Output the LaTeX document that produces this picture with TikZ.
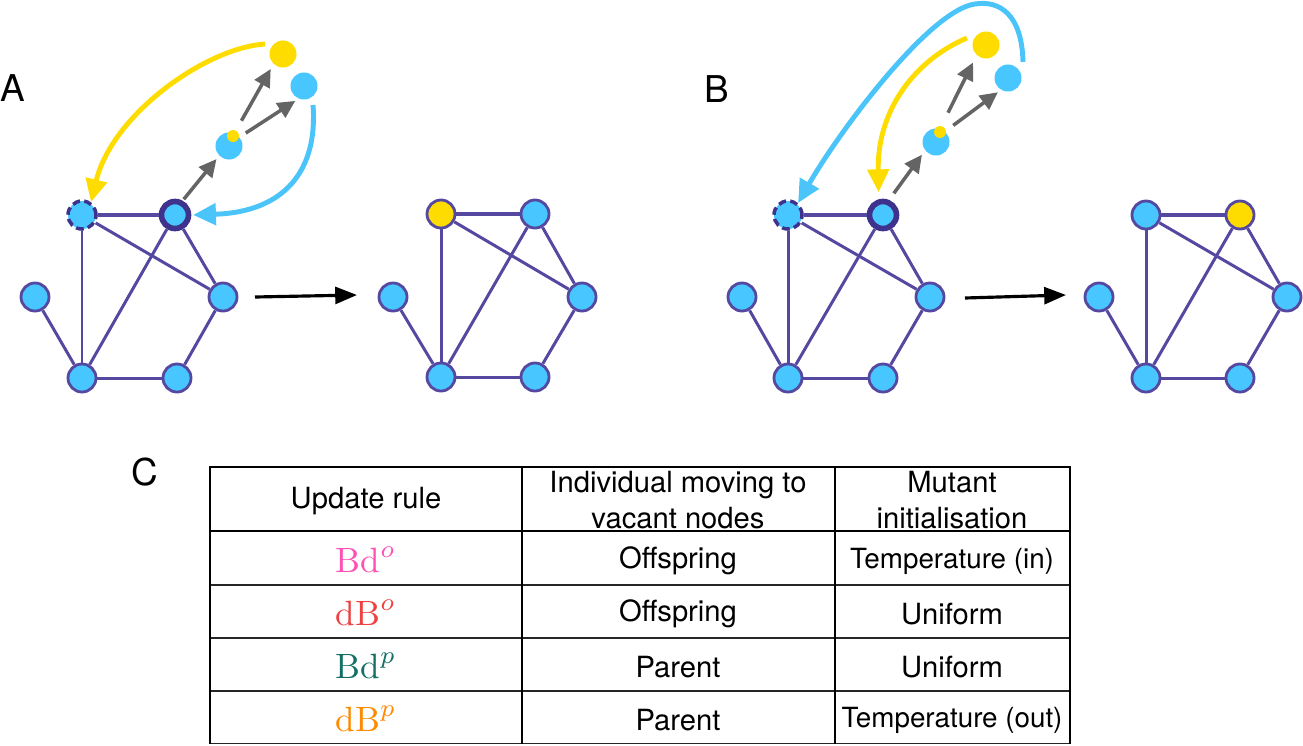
\documentclass[tikz,border=0pt]{standalone}
\usepackage{fontspec}
\newfontfamily\helv{TeX Gyre Heros}
\usetikzlibrary{arrows.meta}
\usepackage{xcolor}

\definecolor{nodeblue}{RGB}{72,198,255}
\definecolor{linkpurple}{RGB}{84,72,160}
\definecolor{darkpurple}{RGB}{62,50,140}
\definecolor{mutyellow}{RGB}{255,220,0}
\definecolor{arrgray}{RGB}{100,100,100}
\definecolor{arrblue}{RGB}{75,196,250}
\definecolor{rulepink}{RGB}{255,80,180}
\definecolor{rulered}{RGB}{238,66,66}
\definecolor{ruleteal}{RGB}{20,112,102}
\definecolor{ruleorange}{RGB}{255,138,0}

\tikzset{
  ind/.style={circle, draw=linkpurple, fill=nodeblue, line width=0.8pt, minimum size=0.28cm, inner sep=0pt},
  mutind/.style={ind, fill=mutyellow},
  parentind/.style={ind, draw=darkpurple, line width=1.6pt, minimum size=0.27cm},
  vacantind/.style={ind, draw=darkpurple, line width=1pt, dash pattern=on 2.2pt off 1.2pt},
  floatind/.style={circle, fill=nodeblue, minimum size=0.27cm, inner sep=0pt},
  floatmut/.style={floatind, fill=mutyellow},
  seed/.style={circle, fill=mutyellow, minimum size=0.12cm, inner sep=0pt},
  link/.style={linkpurple, line width=0.85pt},
  toplink/.style={linkpurple, line width=1.2pt},
  grayarr/.style={arrgray, line width=1pt, -{Triangle[length=5pt,width=4.8pt]}},
  yarrow/.style={mutyellow, line width=1.4pt, -{Triangle[length=6.5pt,width=6pt]}},
  barrow/.style={arrblue, line width=1.4pt, -{Triangle[length=6.5pt,width=6pt]}},
  steparr/.style={black, line width=0.9pt, -{Triangle[length=6.2pt,width=4.8pt]}},
  panel/.style={font=\helv\fontsize{10.5}{12}\selectfont},
  cell/.style={font=\helv\fontsize{8.3}{10}\selectfont, align=center},
  tempcell/.style={font=\helv\fontsize{7.9}{10}\selectfont, align=center},
  rulecell/.style={font=\fontsize{10}{12}\selectfont},
  tabthick/.style={black, line width=0.8pt},
  tabmid/.style={black, line width=0.55pt},
  tabthin/.style={black!85, line width=0.4pt}
}

\begin{document}
\begin{tikzpicture}[x=0.01cm, y=-0.01cm]

\useasboundingbox (0,0) rectangle (1303,745);

% panel letters
\node[panel] (labA) at (13,88) {A};
\node[panel] (labB) at (717,89) {B};
\node[panel] (labC) at (145,472) {C};

% graph A (before)
\node[vacantind] (vA)  at (82,215)  {};
\node[parentind] (pA)  at (175,215) {};
\node[ind]       (lA)  at (35,297)  {};
\node[ind]       (rA)  at (223,297) {};
\node[ind]       (blA) at (82,378)  {};
\node[ind]       (brA) at (177,378) {};
\draw[toplink] (vA) -- (pA);
\draw[link] (vA) -- (blA);
\draw[link] (vA) -- (rA);
\draw[link] (pA) -- (blA);
\draw[link] (pA) -- (rA);
\draw[link] (lA) -- (blA);
\draw[link] (blA) -- (brA);
\draw[link] (brA) -- (rA);

% reproduction A: offspring moves to the vacant node
\node[floatind] (cA)  at (229,146) {};
\node[seed]     (sA)  at (233,136) {};
\node[floatmut] (yA)  at (283,54)  {};
\node[floatind] (bA)  at (304,86)  {};
\draw[grayarr, shorten <=0.5pt, shorten >=1.1pt] (pA.62) -- (cA.225);
\draw[grayarr, shorten <=4pt, shorten >=1.5pt]   (cA.67) -- (yA.227);
\draw[grayarr, shorten <=2pt, shorten >=1pt]     (cA.40) -- (bA.246);
\coordinate (ysA) at (265,44);
\coordinate (bsA) at (313,105);
\draw[yarrow] (ysA) .. controls (205,48) and (112,115) .. (vA.55);
\draw[barrow, shorten >=0.5pt] (bsA) .. controls (318,170) and (285,212) .. (pA.east);

\coordinate (asA) at (255,297);
\coordinate (aeA) at (357,295);
\draw[steparr] (asA) -- (aeA);

% graph A (after)
\node[mutind] (tlA2) at (441,214) {};
\node[ind]    (trA2) at (535,214) {};
\node[ind]    (lA2)  at (393,297) {};
\node[ind]    (rA2)  at (582,297) {};
\node[ind]    (blA2) at (441,377) {};
\node[ind]    (brA2) at (535,377) {};
\draw[toplink] (tlA2) -- (trA2);
\draw[link] (tlA2) -- (blA2);
\draw[link] (tlA2) -- (rA2);
\draw[link] (trA2) -- (blA2);
\draw[link] (trA2) -- (rA2);
\draw[link] (lA2) -- (blA2);
\draw[link] (blA2) -- (brA2);
\draw[link] (brA2) -- (rA2);

% graph B (before)
\node[vacantind] (vB)  at (788,215) {};
\node[parentind] (pB)  at (883,215) {};
\node[ind]       (lB)  at (742,297) {};
\node[ind]       (rB)  at (930,297) {};
\node[ind]       (blB) at (788,378) {};
\node[ind]       (brB) at (883,378) {};
\draw[toplink] (vB) -- (pB);
\draw[link] (vB) -- (blB);
\draw[link] (vB) -- (rB);
\draw[link] (pB) -- (blB);
\draw[link] (pB) -- (rB);
\draw[link] (lB) -- (blB);
\draw[link] (blB) -- (brB);
\draw[link] (brB) -- (rB);

% reproduction B: parent moves to the vacant node
\node[floatind] (cB)  at (936,142)  {};
\node[seed]     (sB)  at (940,132)  {};
\node[floatmut] (yB)  at (986,45)   {};
\node[floatind] (bB)  at (1008,78)  {};
\draw[grayarr, shorten <=2.3pt, shorten >=1.4pt] (pB.68) -- (cB.218);
\draw[grayarr, shorten <=5pt, shorten >=2.2pt]   (cB.73) -- (yB.228);
\draw[grayarr, shorten <=2.8pt, shorten >=1pt]   (cB.49) -- (bB.239);
\coordinate (ysB) at (967,38);
\coordinate (bsB) at (1023,62);
\coordinate (btB) at (975,4);
\draw[yarrow, shorten >=2pt] (ysB) .. controls (915,60) and (877,110) .. (pB.105);
\draw[barrow] (bsB) .. controls (1022,15) and (1000,0) .. (btB) .. controls (930,10) and (840,130) .. (vB.50);

\coordinate (asB) at (965,298);
\coordinate (aeB) at (1066,295);
\draw[steparr] (asB) -- (aeB);

% graph B (after)
\node[ind]    (tlB2) at (1146,215) {};
\node[mutind] (trB2) at (1240,215) {};
\node[ind]    (lB2)  at (1099,297) {};
\node[ind]    (rB2)  at (1287,297) {};
\node[ind]    (blB2) at (1146,378) {};
\node[ind]    (brB2) at (1240,378) {};
\draw[toplink] (tlB2) -- (trB2);
\draw[link] (tlB2) -- (blB2);
\draw[link] (tlB2) -- (rB2);
\draw[link] (trB2) -- (blB2);
\draw[link] (trB2) -- (rB2);
\draw[link] (lB2) -- (blB2);
\draw[link] (blB2) -- (brB2);
\draw[link] (brB2) -- (rB2);

% table
\draw[tabthin] (210,585) -- (1070,585);
\draw[tabthin] (210,638) -- (1070,638);
\draw[tabthin] (210,691) -- (1070,691);
\draw[tabthin] (210,743.5) -- (1070,743.5);
\draw[tabmid]  (210,531) -- (210,743.5);
\draw[tabmid]  (522,531) -- (522,743.5);
\draw[tabmid]  (835,531) -- (835,743.5);
\draw[tabmid]  (1070,531) -- (1070,743.5);
\draw[tabthick] (210,467) rectangle (1070,531);
\draw[tabthick] (522,467) -- (522,531);
\draw[tabthick] (835,467) -- (835,531);

\node[cell] (h1) at (366,501) {Update rule};
\node[cell] (h2) at (678,500) {Individual moving to\\vacant nodes};
\node[cell] (h3) at (952,500) {Mutant\\initialisation};

\node[rulecell] (r1) at (366,560) {\textcolor{rulepink}{$\mathrm{Bd}^{o}$}};
\node[cell]     (m1) at (678,561) {Offspring};
\node[tempcell] (t1) at (952,561) {Temperature (in)};

\node[rulecell] (r2) at (366,613) {\textcolor{rulered}{$\mathrm{dB}^{o}$}};
\node[cell]     (m2) at (678,614) {Offspring};
\node[cell]     (t2) at (952,614) {Uniform};

\node[rulecell] (r3) at (366,666) {\textcolor{ruleteal}{$\mathrm{Bd}^{p}$}};
\node[cell]     (m3) at (678,667) {Parent};
\node[cell]     (t3) at (952,667) {Uniform};

\node[rulecell] (r4) at (366,719) {\textcolor{ruleorange}{$\mathrm{dB}^{p}$}};
\node[cell]     (m4) at (678,720) {Parent};
\node[tempcell] (t4) at (952,720) {Temperature (out)};

\end{tikzpicture}
\end{document}
